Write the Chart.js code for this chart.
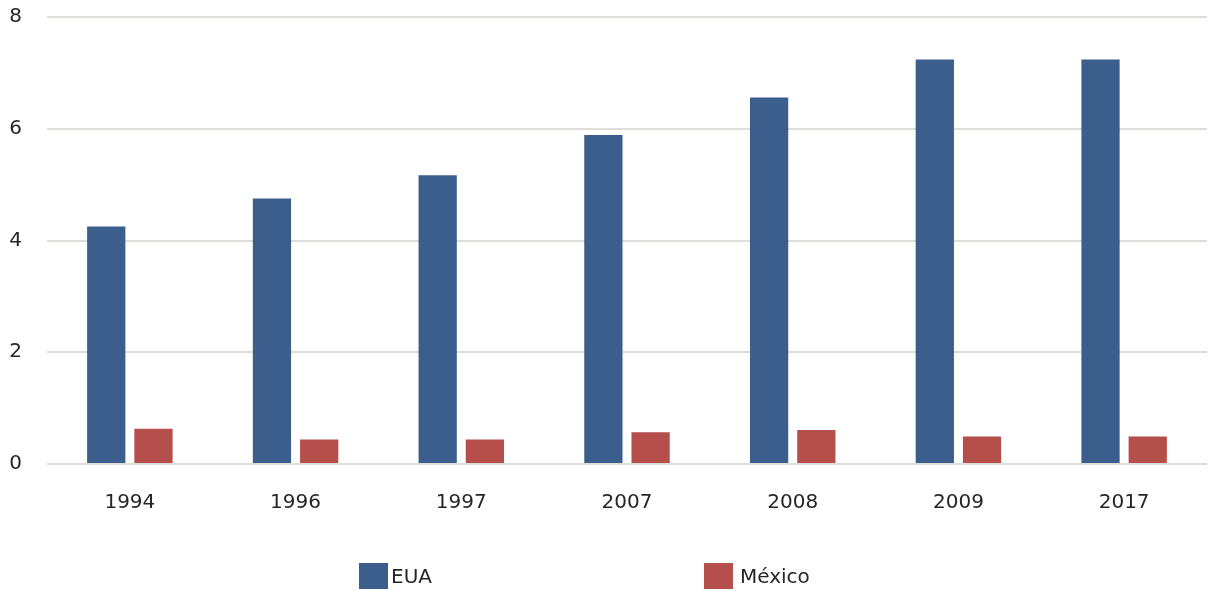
<!DOCTYPE html>
<html>
<head>
<meta charset="utf-8">
<script src="https://cdn.jsdelivr.net/npm/chart.js@4"></script>
<style>
  html, body { margin: 0; padding: 0; background: #fff; }
  #wrap { position: relative; width: 1209px; height: 590px; }
  #chart { display: block; }
  #legend { position: absolute; top: 563px; left: 0; width: 1209px; height: 26px;
            font-family: "DejaVu Sans", Verdana, sans-serif; font-size: 20px; color: #262626; }
  .item { position: absolute; top: 0; height: 26px; line-height: 26px; white-space: nowrap; }
  .box { display: inline-block; width: 29px; height: 26px; vertical-align: top; margin-right: 3px; }
</style>
</head>
<body>
<div id="wrap">
  <canvas id="chart" width="1209" height="590"></canvas>
  <div id="legend"></div>
</div>
<script>
const years = ["1994", "1996", "1997", "2007", "2008", "2009", "2017"];
const euaValues = [4.25, 4.75, 5.17, 5.89, 6.56, 7.24, 7.24];
const mexicoValues = [0.63, 0.44, 0.44, 0.57, 0.61, 0.49, 0.49];
const seriesNames = ["EUA", "México"];
const seriesColors = ["#3B5E8C", "#B54F4B"];
const yTicks = [0, 2, 4, 6, 8];

const fontFamily = '"DejaVu Sans", Verdana, sans-serif';
const textColor = "#262626";

const ctx = document.getElementById("chart").getContext("2d");
const chart = new Chart(ctx, {
  type: "bar",
  data: {
    labels: years,
    datasets: [
      { label: seriesNames[0], data: euaValues, backgroundColor: seriesColors[0] },
      { label: seriesNames[1], data: mexicoValues, backgroundColor: seriesColors[1] }
    ]
  },
  options: {
    responsive: false,
    animation: false,
    layout: { autoPadding: false, padding: { top: 17, left: 8, right: 2, bottom: 56 } },
    datasets: { bar: { categoryPercentage: 0.57, barPercentage: 0.81 } },
    plugins: { legend: { display: false }, tooltip: { enabled: false } },
    scales: {
      x: {
        afterFit: axis => {
          axis.height = 70;
          axis.paddingLeft = 0;
          axis.paddingRight = 0;
        },
        grid: { display: false },
        border: { display: false },
        ticks: { padding: 19, maxRotation: 0, color: textColor, font: { family: fontFamily, size: 20 } }
      },
      y: {
        min: 0,
        max: 8,
        afterBuildTicks: axis => { axis.ticks = yTicks.map(v => ({ value: v })); },
        // tick padding would otherwise also push the plot down from the top
        afterFit: axis => {
          axis.width = 39;
          axis.paddingTop = 0;
          axis.paddingBottom = 0;
        },
        grid: { color: "#DDDDD9", lineWidth: 2, drawTicks: false },
        border: { display: false },
        ticks: { padding: 25, color: textColor, font: { family: fontFamily, size: 20 } }
      }
    }
  }
});

// legend laid out like the original (wide spacing)
const legend = document.getElementById("legend");
const legendX = [359, 704];
seriesNames.forEach((name, i) => {
  const item = document.createElement("div");
  item.className = "item";
  item.style.left = legendX[i] + "px";
  const box = document.createElement("span");
  box.className = "box";
  box.style.background = seriesColors[i];
  if (i === 1) box.style.marginRight = "7px";
  item.appendChild(box);
  item.appendChild(document.createTextNode(name));
  legend.appendChild(item);
});
</script>
</body>
</html>
